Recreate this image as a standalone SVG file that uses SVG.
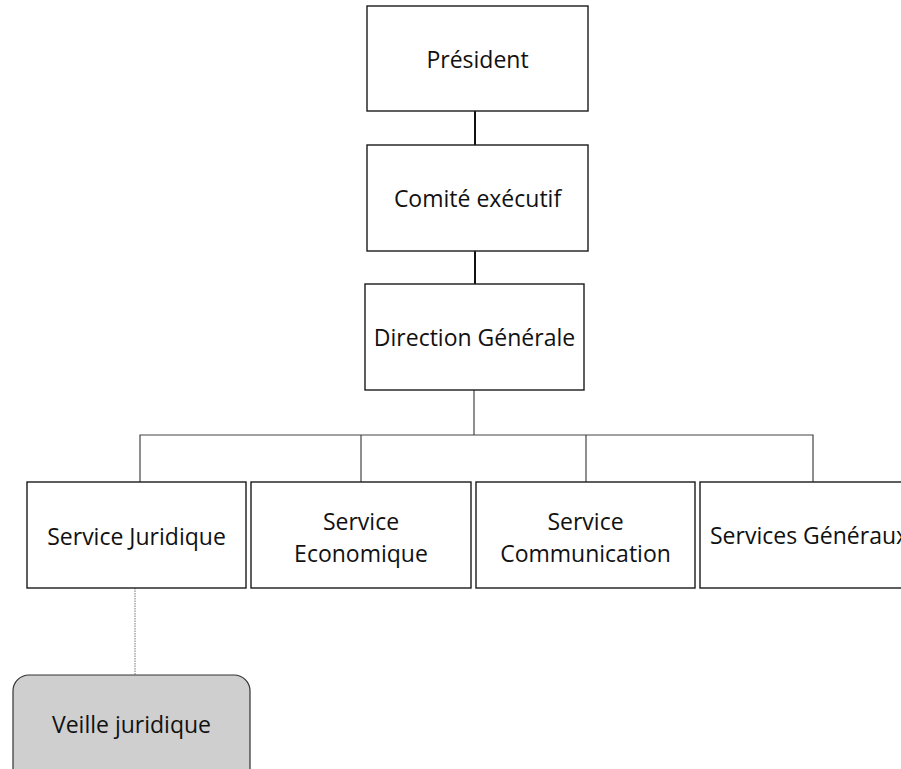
<svg xmlns="http://www.w3.org/2000/svg" width="901" height="769" viewBox="0 0 901 769">
<style>
.box{fill:#fff;stroke:#1a1a1a;stroke-width:1.4}
.sub{fill:#cfcfcf;stroke:#333;stroke-width:1.2}
.lbl{font-family:"Open Sans",Lato,sans-serif;font-size:23px;fill:#111;text-anchor:middle;font-variant-ligatures:none}
.ln{stroke:#111;stroke-width:2;fill:none}
.tl{stroke:#444;stroke-width:1.2;fill:none}
.dot{stroke:#777;stroke-width:1;stroke-dasharray:1.5 1;fill:none}
</style>
<rect width="901" height="769" fill="#fff"/>
<g id="connectors">
<line class="ln" x1="475" y1="111" x2="475" y2="145"/>
<line class="ln" x1="475" y1="251" x2="475" y2="285"/>
<line class="tl" x1="474" y1="390" x2="474" y2="435"/>
<polyline class="tl" points="140,482 140,435 813,435 813,482"/>
<line class="tl" x1="361" y1="435" x2="361" y2="482"/>
<line class="tl" x1="586" y1="435" x2="586" y2="482"/>
<line class="dot" x1="135" y1="588" x2="135" y2="675"/>
</g>
<g id="president">
<rect class="box" x="367" y="6" width="221" height="105"/>
<text class="lbl" x="477.5" y="68">Président</text>
</g>
<g id="comite">
<rect class="box" x="367" y="145" width="221" height="106"/>
<text class="lbl" x="477.5" y="207">Comité exécutif</text>
</g>
<g id="direction">
<rect class="box" x="365" y="284" width="219" height="106"/>
<text class="lbl" x="474.5" y="346">Direction Générale</text>
</g>
<g id="juridique">
<rect class="box" x="27" y="482" width="219" height="106"/>
<text class="lbl" x="136.5" y="545">Service Juridique</text>
</g>
<g id="economique">
<rect class="box" x="251" y="482" width="220" height="106"/>
<text class="lbl" x="361" y="530">Service</text>
<text class="lbl" x="361" y="562">Economique</text>
</g>
<g id="communication">
<rect class="box" x="476" y="482" width="219" height="106"/>
<text class="lbl" x="585.5" y="530">Service</text>
<text class="lbl" x="585.5" y="562">Communication</text>
</g>
<g id="generaux">
<rect class="box" x="700" y="482" width="219" height="106"/>
<text class="lbl" x="710" y="544" style="text-anchor:start">Services Généraux</text>
</g>
<g id="veille">
<rect class="sub" x="13" y="675" width="237" height="110" rx="16" ry="16"/>
<text class="lbl" x="131.5" y="733">Veille juridique</text>
</g>
</svg>
